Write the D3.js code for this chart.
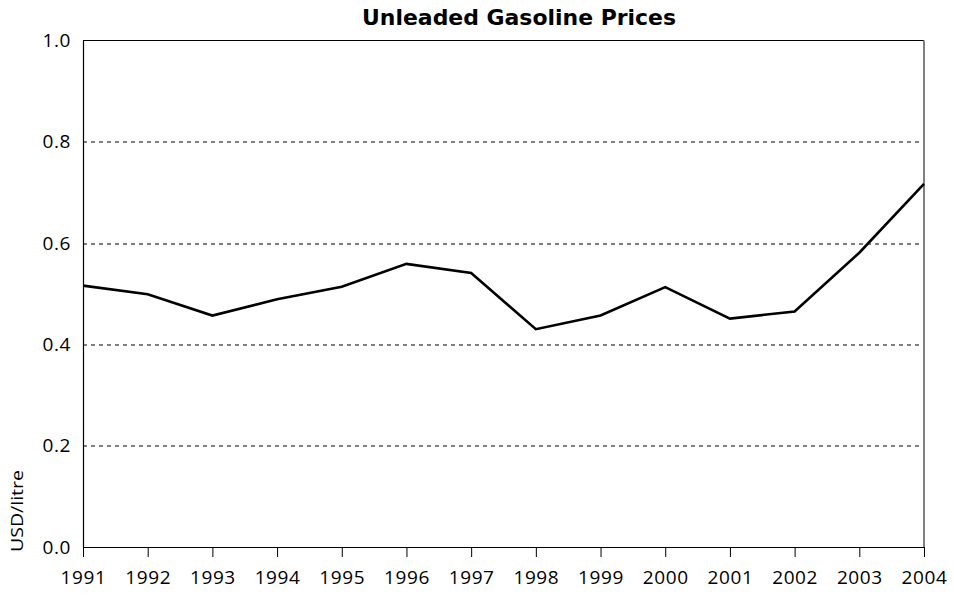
<!DOCTYPE html>
<html>
<head>
<meta charset="utf-8">
<script src="https://cdn.jsdelivr.net/npm/d3@7"></script>
<style>
  html, body { margin: 0; padding: 0; background: #fff; }
  svg { display: block; }
</style>
</head>
<body>
<svg id="chart" width="953" height="597"></svg>
<script>
// Annual unleaded gasoline price, USD per litre
const years = [1991, 1992, 1993, 1994, 1995, 1996, 1997, 1998, 1999, 2000, 2001, 2002, 2003, 2004];
const prices = [0.516, 0.499, 0.457, 0.489, 0.514, 0.559, 0.541, 0.430, 0.457, 0.513, 0.451, 0.465, 0.581, 0.717];
const yTicks = [0.0, 0.2, 0.4, 0.6, 0.8, 1.0];
const gridValues = [0.2, 0.4, 0.6, 0.8];

const svg = d3.select("#chart");
const margin = { top: 40.5, right: 29, bottom: 50, left: 83 };
const width = 953, height = 597;
const innerW = width - margin.left - margin.right;
const innerH = height - margin.top - margin.bottom;

const x = d3.scaleLinear().domain([years[0], years[years.length - 1]]).range([0, innerW]);
const y = d3.scaleLinear().domain([0, 1]).range([innerH, 0]);

const g = svg.append("g").attr("transform", `translate(${margin.left},${margin.top})`);

// Dashed horizontal gridlines
g.append("g").selectAll("line").data(gridValues).join("line")
  .attr("x1", 0).attr("x2", innerW)
  .attr("y1", d => Math.round(y(d)) + 0.5).attr("y2", d => Math.round(y(d)) + 0.5)
  .attr("stroke", "#000").attr("stroke-width", 1).attr("stroke-dasharray", "4,4");

// Top border and shaded right border
g.append("line").attr("x1", 0).attr("x2", innerW).attr("y1", 0).attr("y2", 0)
  .attr("stroke", "#000").attr("stroke-width", 1.2);
g.append("line").attr("x1", innerW).attr("x2", innerW).attr("y1", 0).attr("y2", innerH)
  .attr("stroke", "#808080").attr("stroke-width", 2);

function styleTickText(sel) {
  sel.selectAll(".tick text")
    .attr("font-family", "'Open Sans', 'Noto Sans', sans-serif")
    .attr("font-size", 19)
    .attr("letter-spacing", "0.6px")
    .attr("fill", "#000");
}

// Y axis (no tick marks)
const yAxis = g.append("g").call(
  d3.axisLeft(y).tickValues(yTicks).tickFormat(d3.format(".1f")).tickSize(0).tickPadding(12)
);
yAxis.select(".domain").attr("stroke", "#000").attr("stroke-width", 1.2);
styleTickText(yAxis);

// X axis with downward ticks
const xAxis = g.append("g").attr("transform", `translate(0,${innerH})`).call(
  d3.axisBottom(x).tickValues(years).tickFormat(d3.format("d")).tickSizeInner(10).tickSizeOuter(0).tickPadding(14)
);
xAxis.select(".domain").attr("stroke", "#000").attr("stroke-width", 1.2);
xAxis.selectAll(".tick line").attr("stroke", "#000");
styleTickText(xAxis);

// Price line
const line = d3.line().x((d, i) => x(years[i])).y(d => y(d));
g.append("path").datum(prices)
  .attr("d", line)
  .attr("fill", "none")
  .attr("stroke", "#000")
  .attr("stroke-width", 2.6)
  .attr("stroke-linejoin", "miter");

// Title
svg.append("text")
  .attr("x", 519).attr("y", 25)
  .attr("text-anchor", "middle")
  .attr("font-family", "'DejaVu Sans', sans-serif")
  .attr("font-weight", "bold")
  .attr("font-size", 21)
  .attr("textLength", 314)
  .attr("lengthAdjust", "spacingAndGlyphs")
  .text("Unleaded Gasoline Prices");

// Y axis title
svg.append("text")
  .attr("transform", "translate(23,511) rotate(-90)")
  .attr("text-anchor", "middle")
  .attr("font-family", "'Open Sans', sans-serif")
  .attr("font-size", 17)
  .attr("textLength", 82)
  .attr("lengthAdjust", "spacingAndGlyphs")
  .text("USD/litre");
</script>
</body>
</html>
